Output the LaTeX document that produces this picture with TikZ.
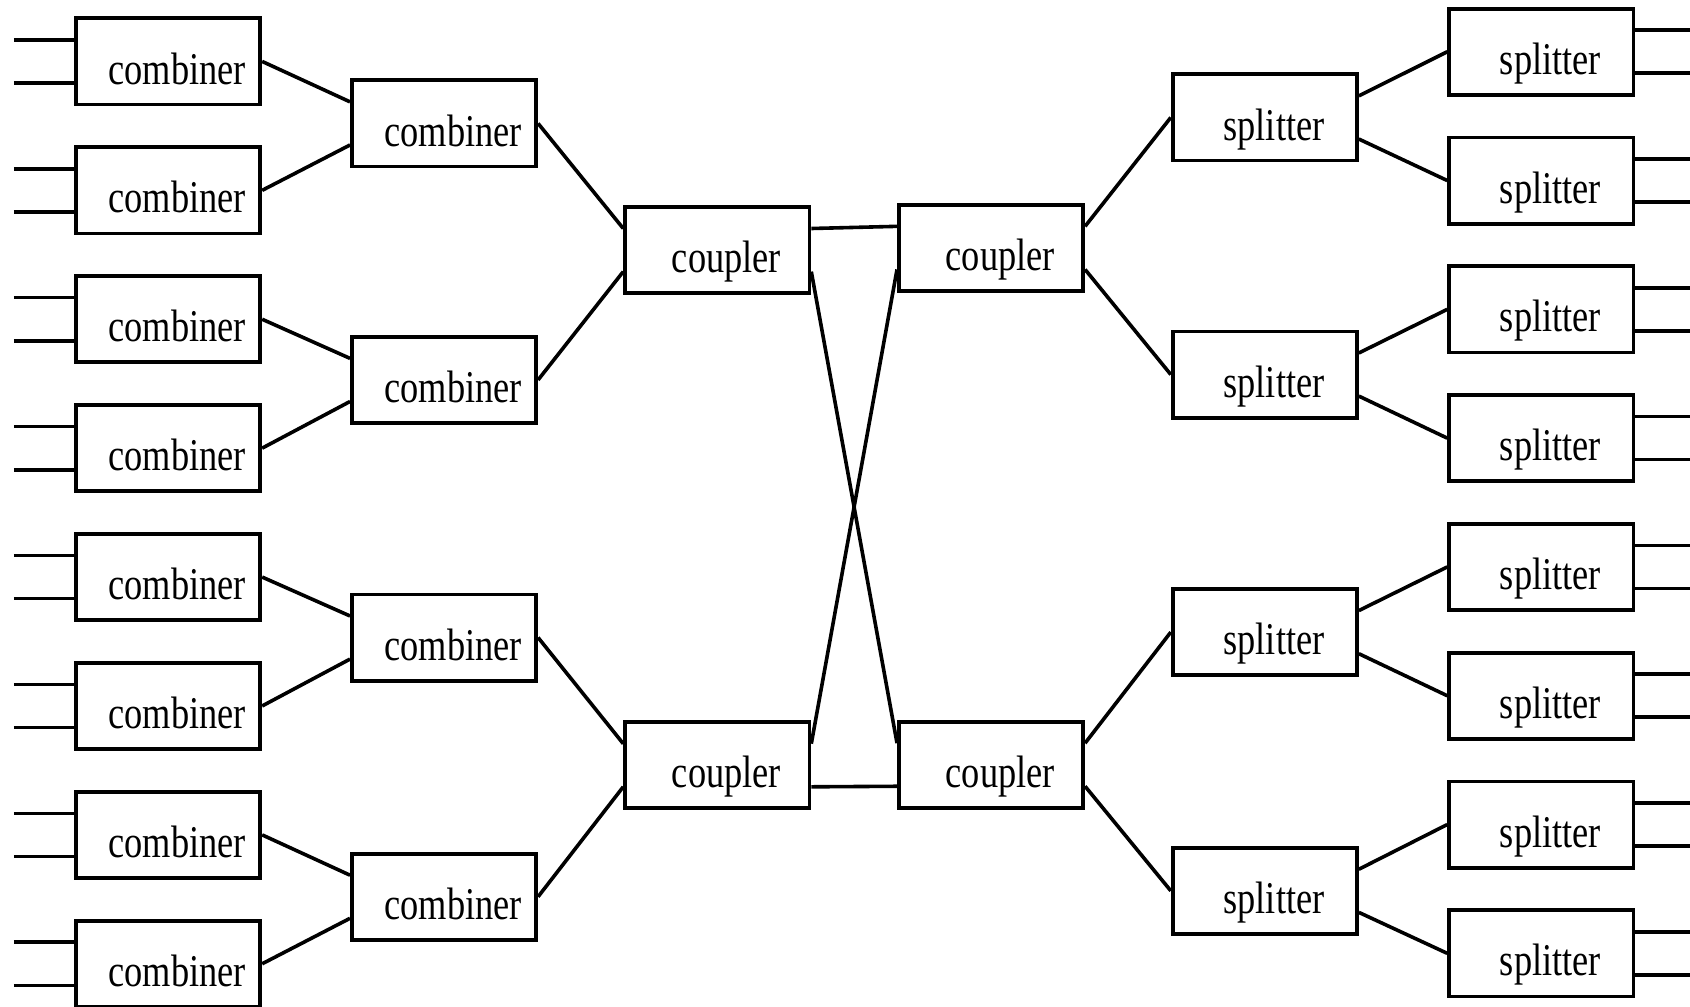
\documentclass[tikz,border=0pt]{standalone}
\usepackage{fontspec}
\newfontfamily\boxfont[FakeStretch=0.8]{Liberation Serif}
\usetikzlibrary{calc}
\tikzset{
  blk/.style={draw, line width=2pt, minimum width=3.42cm, minimum height=1.6cm,
    inner sep=0pt, font=\boxfont\fontsize{24}{24}\selectfont,
    text height=0.84cm, text depth=0pt},
  wire/.style={line width=1.9pt}
}
\newcommand{\lbl}[1]{\hspace*{0.34cm}#1}
\begin{document}
\begin{tikzpicture}[x=0.02cm,y=-0.02cm]
\useasboundingbox (0,0) rectangle (1568,934);
% first column of combiners
\foreach \i in {1,...,8}
  \node[blk] (a\i) at (156,{57+119.6*(\i-1)}) {\lbl{combiner}};
% second column of combiners
\foreach \i/\y in {1/114.5,2/352.5,3/591.5,4/832}
  \node[blk] (b\i) at (412,\y) {\lbl{combiner}};
% couplers
\node[blk] (cL1) at (665.5,232) {\lbl{coupler}};
\node[blk] (cL2) at (665.5,710) {\lbl{coupler}};
\node[blk] (cR1) at (919.5,230) {\lbl{coupler}};
\node[blk] (cR2) at (919.5,709.5) {\lbl{coupler}};
% first column of splitters
\foreach \i/\y in {1/109,2/347.5,3/586.5,4/826.5}
  \node[blk] (s\i) at (1173.5,\y) {\lbl{splitter}};
% second column of splitters
\foreach \i in {1,...,8}
  \node[blk] (t\i) at (1430,{48+119.5*(\i-1)}) {\lbl{splitter}};
% inputs
\foreach \i in {1,...,8}{
  \path (a\i.west) ++(-56,-20) coordinate (inA\i);
  \path (a\i.west) ++(-56,20) coordinate (inB\i);
  \draw[wire] (inA\i) -- ($(a\i.west)+(0,-20)$);
  \draw[wire] (inB\i) -- ($(a\i.west)+(0,20)$);
}
% combiner tree
\foreach \i in {1,...,4}{
  \pgfmathtruncatemacro{\j}{2*\i-1}
  \pgfmathtruncatemacro{\k}{2*\i}
  \draw[wire] (a\j.east) -- ($(b\i.west)+(0,-20)$);
  \draw[wire] (a\k.east) -- ($(b\i.west)+(0,20)$);
}
\draw[wire] (b1.east) -- ($(cL1.west)+(0,-20)$);
\draw[wire] (b2.east) -- ($(cL1.west)+(0,20)$);
\draw[wire] (b3.east) -- ($(cL2.west)+(0,-20)$);
\draw[wire] (b4.east) -- ($(cL2.west)+(0,20)$);
% couplers interconnect
\draw[wire] ($(cL1.east)+(0,-20)$) -- ($(cR1.west)+(0,-20)$);
\draw[wire] ($(cL1.east)+(0,20)$) -- ($(cR2.west)+(0,-20)$);
\draw[wire] ($(cR1.west)+(0,20)$) -- ($(cL2.east)+(0,-20)$);
\draw[wire] ($(cL2.east)+(0,20)$) -- ($(cR2.west)+(0,20)$);
% splitter tree
\draw[wire] ($(cR1.east)+(0,-20)$) -- (s1.west);
\draw[wire] ($(cR1.east)+(0,20)$) -- (s2.west);
\draw[wire] ($(cR2.east)+(0,-20)$) -- (s3.west);
\draw[wire] ($(cR2.east)+(0,20)$) -- (s4.west);
\foreach \i in {1,...,4}{
  \pgfmathtruncatemacro{\j}{2*\i-1}
  \pgfmathtruncatemacro{\k}{2*\i}
  \draw[wire] ($(s\i.east)+(0,-20)$) -- (t\j.west);
  \draw[wire] ($(s\i.east)+(0,20)$) -- (t\k.west);
}
% outputs
\foreach \i in {1,...,8}{
  \path (t\i.east) ++(54,-20) coordinate (outA\i);
  \path (t\i.east) ++(54,20) coordinate (outB\i);
  \draw[wire] ($(t\i.east)+(0,-20)$) -- (outA\i);
  \draw[wire] ($(t\i.east)+(0,20)$) -- (outB\i);
}
\end{tikzpicture}
\end{document}
